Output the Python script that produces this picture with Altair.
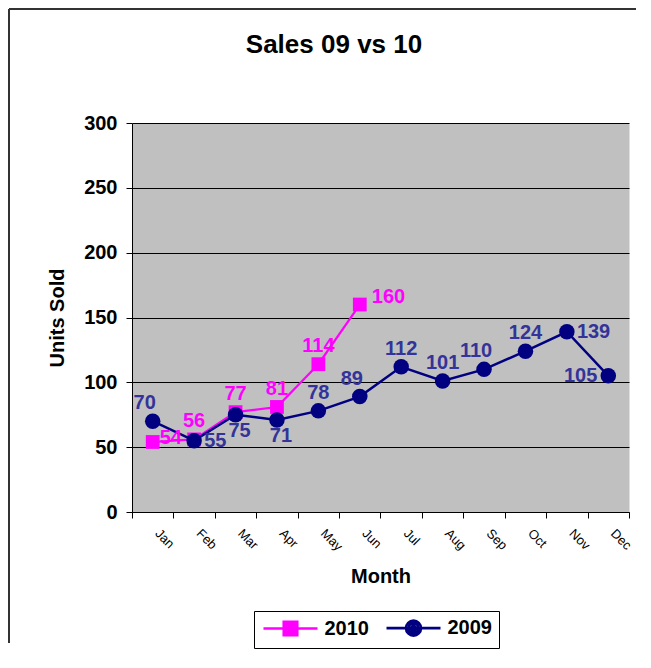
import altair as alt
import pandas as pd

# ---------------- data ----------------
months = ["Jan", "Feb", "Mar", "Apr", "May", "Jun",
          "Jul", "Aug", "Sep", "Oct", "Nov", "Dec"]
sales_2010 = [54, 56, 77, 81, 114, 160]
sales_2009 = [70, 55, 75, 71, 78, 89, 112, 101, 110, 124, 139, 105]
series_names = ["2010", "2009"]
y_ticks = [0, 50, 100, 150, 200, 250, 300]
chart_title = "Sales 09 vs 10"

# where each data label sits relative to its point (style only)
place_2010 = ["right_low", "above", "above", "above", "above", "right_up"]
place_2009 = ["above_left", "right", "below", "below", "above", "above_left",
              "above", "above", "above_left", "above", "right", "left"]

line_colors = ["#FF00FF", "#000080"]
label_colors = ["#FF00FF", "#333399"]
FONT = "Liberation Sans"
BIG = 20

rows = []
for m, v, p in zip(months, sales_2010, place_2010):
    rows.append({"month": m, "series": "2010", "value": v, "place": p})
for m, v, p in zip(months, sales_2009, place_2009):
    rows.append({"month": m, "series": "2009", "value": v, "place": p})
df = pd.DataFrame(rows)

W, H = 497, 389

x_enc = alt.X(
    "month:N", sort=months,
    scale=alt.Scale(type="band", paddingInner=0, paddingOuter=0),
    axis=alt.Axis(
        title="Month", tickBand="extent", labelAngle=45, labelAlign="left",
        labelBaseline="middle", labelFont=FONT, labelFontSize=13,
        labelColor="black", labelPadding=13, labelOffset=4, tickSize=6,
        tickColor="black", domainColor="black", grid=False, titleFont=FONT,
        titleFontSize=BIG, titleFontWeight="bold", titleColor="black",
        titlePadding=13,
    ),
)
y_enc = alt.Y(
    "value:Q",
    scale=alt.Scale(domain=[0, 300], nice=False),
    axis=alt.Axis(
        title="Units Sold", values=y_ticks, labelFont=FONT, labelFontSize=BIG,
        labelFontWeight="bold", labelColor="black", labelPadding=9,
        tickSize=6, tickColor="black", domainColor="black", grid=True,
        gridColor="black", gridOpacity=1, gridWidth=1, titleFont=FONT,
        titleFontSize=BIG, titleFontWeight="bold", titleColor="black",
        titlePadding=16,
    ),
)

base = alt.Chart(df).encode(x=x_enc, y=y_enc)

s10 = base.transform_filter(alt.datum.series == "2010")
s09 = base.transform_filter(alt.datum.series == "2009")

line10 = s10.mark_line(color=line_colors[0], strokeWidth=2.2)
pts10 = s10.mark_point(shape="square", filled=True, size=190,
                       color=line_colors[0], opacity=1)
line09 = s09.mark_line(color=line_colors[1], strokeWidth=2.5)
pts09 = s09.mark_point(shape="circle", filled=True, size=240,
                       color=line_colors[1], opacity=1)

placements = {
    "above": dict(align="center", dx=0, dy=-18),
    "above_left": dict(align="center", dx=-8, dy=-18),
    "right": dict(align="left", dx=10, dy=0),
    "right_low": dict(align="left", dx=7, dy=-4),
    "right_up": dict(align="left", dx=12, dy=-8),
    "below": dict(align="center", dx=4, dy=16),
    "left": dict(align="right", dx=-11, dy=0),
}

label_layers = []
for name, st in placements.items():
    label_layers.append(
        base.transform_filter(alt.datum.place == name).mark_text(
            font=FONT, fontSize=BIG, fontWeight="bold", baseline="middle",
            align=st["align"], dx=st["dx"], dy=st["dy"],
        ).encode(
            text="value:Q",
            fill=alt.Fill("series:N",
                          scale=alt.Scale(domain=series_names, range=label_colors),
                          legend=None),
        )
    )

# legend symbols: a line with a (solid-looking) marker, drawn by stroke only
def square_rings(*halves):
    return "".join(f"M-{h},-{h}H{h}V{h}H-{h}Z" for h in halves)

def circle_rings(*radii):
    return "".join(f"M-{r},0A{r},{r},0,1,0,{r},0A{r},{r},0,1,0,-{r},0Z" for r in radii)

sq_path = "M-3.6,0H3.6" + square_rings(0.9, 0.55, 0.2)
circ_path = "M-3.6,0H3.6" + circle_rings(1.0, 0.65, 0.3, 0.06)

leg = alt.Legend(
    orient="none", legendX=122, legendY=488, direction="horizontal",
    strokeColor="black", padding=7, symbolSize=225, symbolOffset=19.5,
    labelOffset=24, columnPadding=12, symbolStrokeWidth=2.6,
    labelFont=FONT, labelFontSize=BIG, labelFontWeight="bold", labelColor="black",
)
legend_layer = alt.Chart(df).transform_filter(alt.datum.value < 0).mark_point(
    filled=False, strokeWidth=2.6, opacity=1, size=225
).encode(
    shape=alt.Shape("series:N", scale=alt.Scale(domain=series_names,
                                                range=[sq_path, circ_path]), legend=leg, title=""),
    color=alt.Color("series:N", scale=alt.Scale(domain=series_names,
                                                range=line_colors), legend=leg, title=""),
)

# chart title and outer frame
one = pd.DataFrame({"t": [chart_title]})
title_layer = alt.Chart(one).mark_text(
    font=FONT, fontSize=26, fontWeight="bold", align="center",
    baseline="alphabetic", color="black",
).encode(x=alt.value(202), y=alt.value(-70), text="t:N")

frame = alt.Chart(one).mark_rule(color="#333333", strokeWidth=2)
frame_left = frame.encode(x=alt.value(-123), y=alt.value(-114), y2=alt.value(520))
frame_top = frame.encode(x=alt.value(-123), x2=alt.value(504), y=alt.value(-114))

chart = alt.layer(
    line10, pts10, line09, pts09, *label_layers, legend_layer,
    title_layer, frame_left, frame_top,
).resolve_scale(fill="independent").properties(
    width=W, height=H, padding=0, background="white",
    view=alt.ViewBackground(fill="#C0C0C0", stroke="transparent"),
)

chart.save("out.html", embed_options={"renderer": "svg", "actions": False})
